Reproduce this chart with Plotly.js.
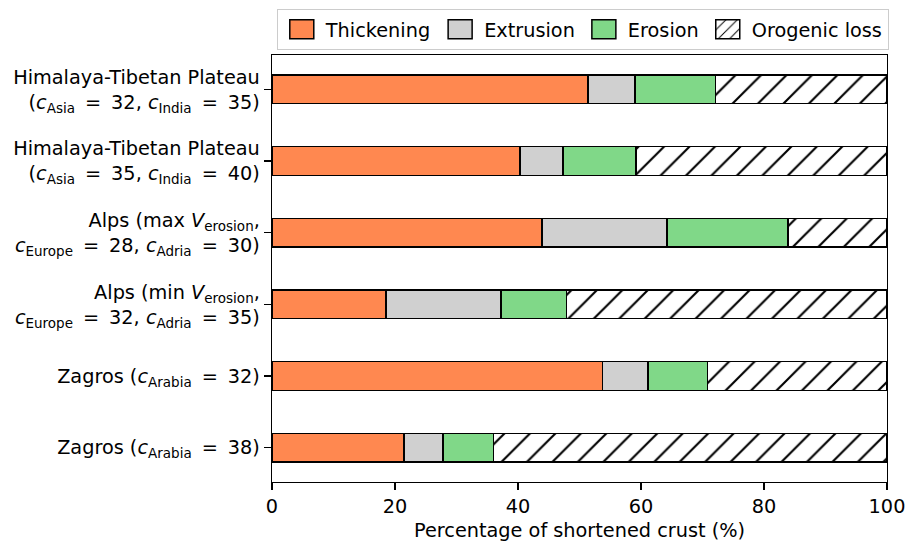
<!DOCTYPE html>
<html>
<head>
<meta charset="utf-8">
<script src="https://cdn.plot.ly/plotly-3.0.1.min.js"></script>
<style>html,body{margin:0;padding:0;background:#fff;}#chart{width:906px;height:543px;}</style>
</head>
<body>
<div id="chart"></div>
<script>
const EQ = "\u2009 = \u2009";
const categories = [
  "Himalaya-Tibetan Plateau<br>(<i>c</i><sub>Asia</sub>" + EQ + "32, <i>c</i><sub>India</sub>" + EQ + "35)",
  "Himalaya-Tibetan Plateau<br>(<i>c</i><sub>Asia</sub>" + EQ + "35, <i>c</i><sub>India</sub>" + EQ + "40)",
  "Alps (max <i>V</i><sub>erosion</sub>,<br><i>c</i><sub>Europe</sub>" + EQ + "28, <i>c</i><sub>Adria</sub>" + EQ + "30)",
  "Alps (min <i>V</i><sub>erosion</sub>,<br><i>c</i><sub>Europe</sub>" + EQ + "32, <i>c</i><sub>Adria</sub>" + EQ + "35)",
  "Zagros (<i>c</i><sub>Arabia</sub>" + EQ + "32)",
  "Zagros (<i>c</i><sub>Arabia</sub>" + EQ + "38)"
];
const thickening = [51.4, 40.3, 43.9, 18.5, 53.7, 21.5];
const extrusion  = [7.6, 7.0, 20.3, 18.7, 7.4, 6.3];
const erosion    = [13.1, 11.9, 19.7, 10.7, 9.7, 8.2];
const orogenicLoss = [27.9, 40.8, 16.1, 52.1, 29.2, 64.0];
const xTicks = [0, 20, 40, 60, 80, 100];

const font = {family: "DejaVu Sans", size: 19.3, color: "#000"};
const edge = {color: "#000", width: 1.5};

const traces = [
  {name: "Thickening", x: thickening, color: "#ff8850"},
  {name: "Extrusion", x: extrusion, color: "#d0d0d0"},
  {name: "Erosion", x: erosion, color: "#80d888"}
].map(s => ({
  type: "bar", orientation: "h", name: s.name, x: s.x, y: categories,
  width: 0.4, marker: {color: s.color, line: edge}, hoverinfo: "x+name"
}));
traces.push({
  type: "bar", orientation: "h", name: "Orogenic loss", x: orogenicLoss, y: categories,
  width: 0.4, hoverinfo: "x+name",
  marker: {color: "#ffffff", line: edge,
    pattern: {shape: "/", fgcolor: "#000", bgcolor: "#ffffff", size: 18, solidity: 0.12}}
});

const layout = {
  width: 906, height: 543,
  margin: {l: 272, r: 19, t: 55, b: 61, autoexpand: false},
  barmode: "stack",
  paper_bgcolor: "#fff", plot_bgcolor: "#fff",
  font: font,
  showlegend: true,
  legend: {orientation: "h", xref: "container", yref: "container",
    x: 0.981, xanchor: "right", y: 0.983, yanchor: "top",
    bordercolor: "#cccccc", borderwidth: 1, font: font, traceorder: "normal",
    itemwidth: 38},
  xaxis: {
    range: [0, 100], tickvals: xTicks, ticktext: xTicks.map(String),
    showgrid: false, zeroline: false, showline: true, mirror: true,
    linecolor: "#000", linewidth: 1.3, ticks: "outside", ticklen: 7, tickwidth: 1.3,
    tickcolor: "#000", tickfont: font,
    title: {text: "Percentage of shortened crust (%)", font: font, standoff: 6}
  },
  yaxis: {
    type: "category", range: [5.48, -0.48], categoryorder: "array", categoryarray: categories,
    showgrid: false, zeroline: false, showline: true, mirror: true,
    linecolor: "#000", linewidth: 1.3, ticks: "outside", ticklen: 7, tickwidth: 1.3,
    tickcolor: "#000", tickfont: font, ticklabelstandoff: 0
  }
};

Plotly.newPlot("chart", traces, layout, {displayModeBar: false, staticPlot: true}).then(gd => {
  // enlarge legend swatches to match the reference's wider boxes
  gd.querySelectorAll(".legend .legendpoints path").forEach(p => {
    p.setAttribute("d", "M12,9.5H-12V-9.5H12Z");
  });
});
</script>
</body>
</html>
